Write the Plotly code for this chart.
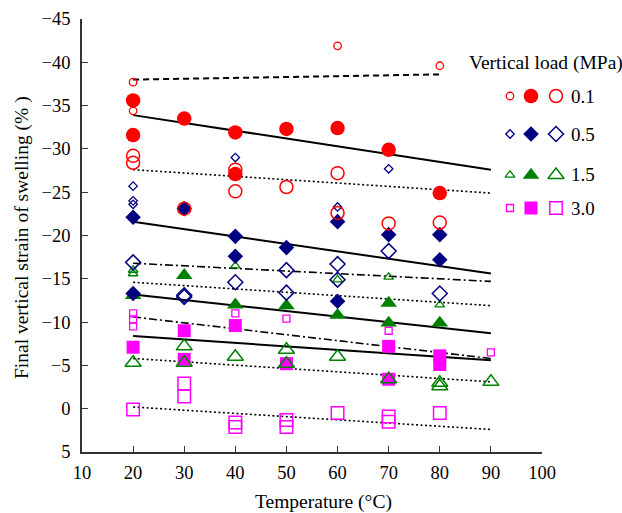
import plotly.graph_objects as go

# ---------------- data ----------------
# 0.1 MPa (red)
red_small_x = [20, 20, 60, 80]
red_small_y = [-37.7, -34.4, -41.9, -39.6]
red_filled_x = [20, 20, 30, 40, 40, 50, 60, 70, 80]
red_filled_y = [-35.6, -31.6, -33.5, -31.9, -27.1, -32.3, -32.4, -29.9, -24.9]
red_large_x = [20, 20, 30, 40, 40, 50, 60, 60, 70, 80]
red_large_y = [-29.2, -28.4, -23.1, -27.6, -25.1, -25.6, -27.2, -22.6, -21.4, -21.5]

# 0.5 MPa (navy)
navy_small_x = [20, 20, 20, 40, 60, 70]
navy_small_y = [-25.7, -24.0, -23.6, -29.0, -23.3, -27.7]
navy_filled_x = [20, 20, 30, 40, 40, 50, 60, 60, 70, 80, 80]
navy_filled_y = [-22.1, -13.3, -23.1, -19.9, -17.6, -18.6, -21.6, -12.4, -20.1, -20.1, -17.2]
navy_large_x = [20, 30, 30, 40, 50, 50, 60, 60, 70, 80]
navy_large_y = [-16.9, -13.1, -12.9, -14.6, -16.0, -13.4, -16.7, -14.9, -18.2, -13.3]

# 1.5 MPa (green)
green_small_x = [20, 20, 40, 60, 70, 80]
green_small_y = [-16.0, -15.6, -16.5, -14.9, -15.2, -12.0]
green_filled_x = [20, 30, 40, 50, 60, 70, 70, 80]
green_filled_y = [-13.1, -15.4, -12.0, -11.9, -10.8, -12.2, -9.9, -9.9]
green_large_x = [20, 30, 30, 40, 50, 50, 60, 70, 80, 80, 90]
green_large_y = [-5.3, -7.2, -5.3, -6.0, -6.8, -5.2, -6.0, -3.4, -3.0, -2.6, -3.1]

# 3.0 MPa (magenta)
mag_small_x = [20, 20, 20, 40, 50, 70, 90]
mag_small_y = [-11.0, -10.3, -9.5, -11.0, -10.4, -9.0, -6.5]
mag_filled_x = [20, 30, 30, 40, 50, 70, 70, 80, 80]
mag_filled_y = [-7.1, -9.0, -5.7, -9.6, -5.2, -7.2, -3.4, -6.1, -5.1]
mag_large_x = [20, 30, 30, 40, 40, 50, 50, 60, 70, 70, 80]
mag_large_y = [0.1, -2.9, -1.4, 1.6, 2.1, 1.3, 2.1, 0.5, 0.9, 1.5, 0.5]

# trend lines (endpoints)
trend_x = [20, 90]
trend_dash_x = [20, 80]
trend_dash_y = [-38.0, -38.6]
trend_solid_y = [[-33.9, -27.6], [-21.6, -15.6], [-13.2, -8.7], [-8.4, -5.6]]
trend_dot_y = [[-27.6, -24.9], [-14.6, -11.9], [-5.8, -3.1], [-0.2, 2.4]]
trend_dashdot_y = [[-16.8, -14.7], [-10.6, -5.8]]

x_ticks = [10, 20, 30, 40, 50, 60, 70, 80, 90, 100]
y_ticks = [-45, -40, -35, -30, -25, -20, -15, -10, -5, 0, 5]
loads = ["0.1", "0.5", "1.5", "3.0"]

# ---------------- styles ----------------
FONT = "Liberation Serif"
RED, NAVY, GREEN, MAG = "#FF0000", "#000080", "#008000", "#FF00FF"
W, H = 622, 513
PX_L, PX_R, PX_T, PX_B = 82, 542, 19, 452

fig = go.Figure()

def add_line(x, y, dash, width):
    fig.add_trace(go.Scatter(x=x, y=y, mode="lines",
                             line=dict(color="black", width=width, dash=dash),
                             showlegend=False, hoverinfo="skip"))

add_line(trend_dash_x, trend_dash_y, "6px,4px", 2)
for yy in trend_solid_y:
    add_line(trend_x, yy, "solid", 2)
for yy in trend_dot_y:
    add_line(trend_x, yy, "2px,2.5px", 1.6)
for yy in trend_dashdot_y:
    add_line(trend_x, yy, "8px,3px,2px,3px", 1.6)

def add_pts(x, y, symbol, size, color, filled, xaxis="x", yaxis="y", lw=1.5):
    if filled:
        marker = dict(symbol=symbol, size=size, color=color, line=dict(width=0))
    else:
        marker = dict(symbol=symbol + "-open", size=size, color=color, line=dict(width=lw, color=color))
    fig.add_trace(go.Scatter(x=x, y=y, mode="markers", marker=marker,
                             showlegend=False, hoverinfo="skip", cliponaxis=False,
                             xaxis=xaxis, yaxis=yaxis))

series = [
    ("square", MAG, (mag_small_x, mag_small_y), (mag_filled_x, mag_filled_y), (mag_large_x, mag_large_y), (7, 13, 12.5)),
    ("triangle-up", GREEN, (green_small_x, green_small_y), (green_filled_x, green_filled_y), (green_large_x, green_large_y), (8.5, 14.5, 14)),
    ("diamond", NAVY, (navy_small_x, navy_small_y), (navy_filled_x, navy_filled_y), (navy_large_x, navy_large_y), (6.5, 12, 11.5)),
    ("circle", RED, (red_small_x, red_small_y), (red_filled_x, red_filled_y), (red_large_x, red_large_y), (7.5, 14.5, 13)),
]
for sym, col, sm, fl, lg, sizes in series:
    add_pts(fl[0], fl[1], sym, sizes[1], col, True)
    add_pts(lg[0], lg[1], sym, sizes[2], col, False)
    add_pts(sm[0], sm[1], sym, sizes[0], col, False, lw=1.3)

# ---------------- legend (full-figure pixel axes) ----------------
leg_rows = [96, 134, 175, 208]
leg_cols = [510, 531, 556]
leg_styles = [("circle", RED, (7.5, 14.5, 13)), ("diamond", NAVY, (6.5, 12, 11.5)),
              ("triangle-up", GREEN, (8.5, 14.5, 14)), ("square", MAG, (7, 13, 12.5))]

def px(xp):
    return xp / W

def py(yp):
    return 1 - yp / H

for row_y, (sym, col, sizes), lab in zip(leg_rows, leg_styles, loads):
    add_pts([leg_cols[0]], [row_y], sym, sizes[0], col, False, "x2", "y2", lw=1.3)
    add_pts([leg_cols[1]], [row_y], sym, sizes[1], col, True, "x2", "y2")
    add_pts([leg_cols[2]], [row_y], sym, sizes[2], col, False, "x2", "y2")
    fig.add_annotation(x=px(569), y=py(row_y), xref="paper", yref="paper", text=lab, showarrow=False,
                       xanchor="left", yanchor="middle",
                       font=dict(family=FONT, size=19, color="black"))
fig.add_annotation(x=px(467), y=py(63), xref="paper", yref="paper", text="Vertical load (MPa)",
                   showarrow=False, xanchor="left", yanchor="middle",
                   font=dict(family=FONT, size=19.5, color="black"))

# axis titles
fig.add_annotation(x=px(323), y=py(502), xref="paper", yref="paper", text="Temperature (°C)",
                   showarrow=False, xanchor="center", yanchor="middle",
                   font=dict(family=FONT, size=19.5, color="black"))
fig.add_annotation(x=px(22), y=py(238), xref="paper", yref="paper",
                   text="Final vertical strain of swelling (% )",
                   showarrow=False, textangle=-90, xanchor="center", yanchor="middle",
                   font=dict(family=FONT, size=19.5, color="black"))

axis_common = dict(showgrid=False, zeroline=False, showline=True, linecolor="#333333",
                   linewidth=1.5, ticks="inside", ticklen=6, tickwidth=1.3, tickcolor="#333333",
                   tickfont=dict(family=FONT, size=18.5, color="black"), mirror=False,
                   automargin=False)

fig.update_layout(
    width=W, height=H,
    margin=dict(l=0, r=0, t=0, b=0, pad=0),
    paper_bgcolor="white", plot_bgcolor="rgba(0,0,0,0)",
    showlegend=False,
    xaxis=dict(range=[10, 100], tickvals=x_ticks, ticklabelstandoff=3,
               domain=[PX_L / W, PX_R / W], anchor="y", **axis_common),
    yaxis=dict(range=[5, -45], tickvals=y_ticks, ticklabelstandoff=6,
               domain=[1 - PX_B / H, 1 - PX_T / H], anchor="x", **axis_common),
    xaxis2=dict(range=[0, W], domain=[0, 1], anchor="y2", visible=False, fixedrange=True,
                automargin=False),
    yaxis2=dict(range=[H, 0], domain=[0, 1], anchor="x2", visible=False, fixedrange=True,
                automargin=False),
)

fig.write_html("out.html")
